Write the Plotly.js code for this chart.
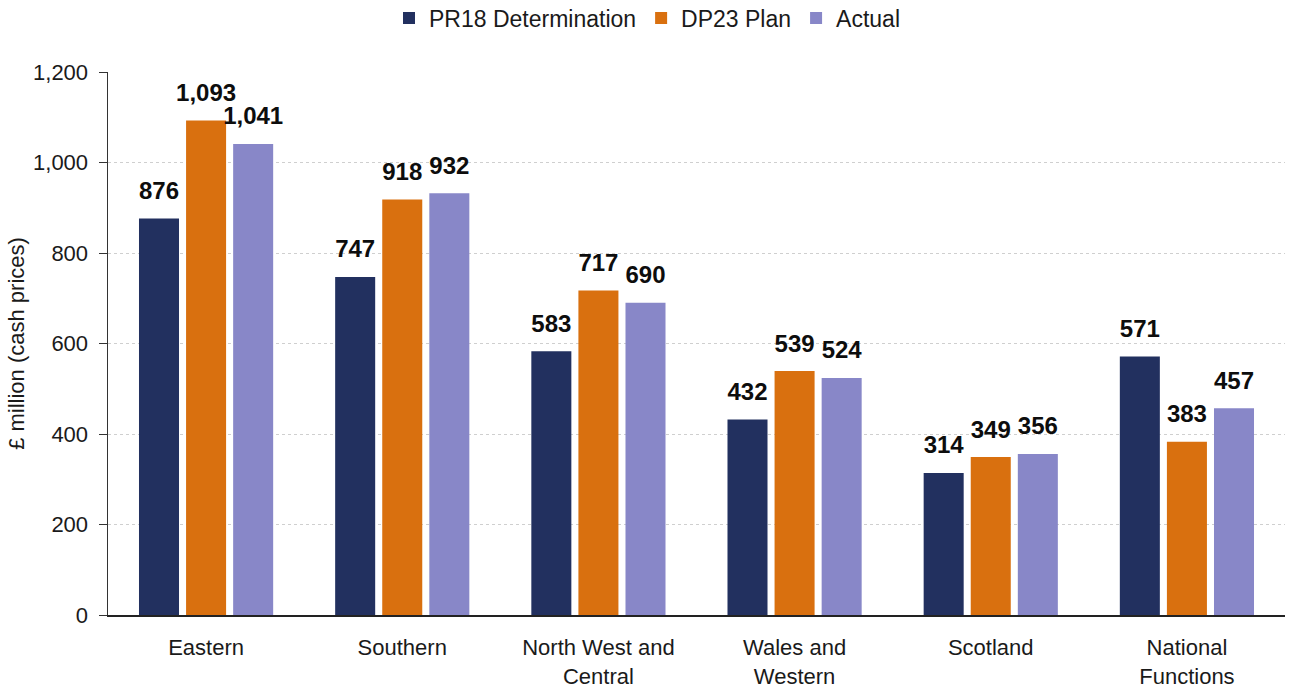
<!DOCTYPE html>
<html>
<head>
<meta charset="utf-8">
<script src="https://cdn.plot.ly/plotly-3.0.1.min.js"></script>
<style>html,body{margin:0;padding:0;background:#fff;}#chart{width:1295px;height:692px;}</style>
</head>
<body>
<div id="chart"></div>
<script>
const categories = ["Eastern", "Southern", "North West and<br>Central", "Wales and<br>Western", "Scotland", "National<br>Functions"];
const seriesNames = ["PR18 Determination", "DP23 Plan", "Actual"];
const pr18 = [876, 747, 583, 432, 314, 571];
const dp23 = [1093, 918, 717, 539, 349, 383];
const actual = [1041, 932, 690, 524, 356, 457];
const colors = ["#22305F", "#D9700F", "#8887C8"];
const yTicks = [0, 200, 400, 600, 800, 1000, 1200];

const FONT = 'Liberation Sans, Arial, sans-serif';
const fmt = v => v.toLocaleString('en-GB');
const series = [pr18, dp23, actual];

const bars = series.map((vals, i) => ({
  type: 'bar',
  name: seriesNames[i],
  x: categories,
  y: vals,
  marker: {color: colors[i]},
  hoverinfo: 'x+y'
}));

const labels = series.map((vals, i) => ({
  type: 'scatter',
  mode: 'markers+text',
  name: seriesNames[i] + ' labels',
  showlegend: false,
  x: categories,
  y: vals,
  marker: {size: 20, opacity: 0, color: colors[i]},
  text: vals.map(fmt),
  textposition: 'top center',
  cliponaxis: false,
  textfont: {family: FONT, size: 24, color: '#0d0d0d', weight: 'bold'},
  hoverinfo: 'skip'
}));

const layout = {
  width: 1295, height: 692,
  margin: {l: 108, r: 10, t: 72, b: 77},
  paper_bgcolor: '#fff', plot_bgcolor: '#fff',
  font: {family: FONT, size: 22, color: '#1a1a1a'},
  barmode: 'group',
  bargap: 0.28,
  bargroupgap: 0.15,
  scattermode: 'group',
  scattergap: 0.28,
  showlegend: true,
  legend: {orientation: 'h', x: 0.5, xanchor: 'center', xref: 'container',
           y: 0.974, yanchor: 'middle', yref: 'container',
           font: {family: FONT, size: 23, color: '#1a1a1a'}, traceorder: 'normal'},
  xaxis: {
    showline: true, linecolor: '#222', linewidth: 1.5,
    ticks: '', tickfont: {family: FONT, size: 22, color: '#1a1a1a'},
    ticklabelstandoff: 12,
    automargin: false
  },
  yaxis: {
    range: [0, 1200], tickvals: yTicks, ticktext: yTicks.map(fmt),
    showline: true, linecolor: '#333', linewidth: 1.5,
    ticks: 'outside', ticklen: 8, tickcolor: '#333',
    ticklabelstandoff: 6,
    showgrid: true, gridcolor: '#CFCFCF', griddash: 'dot', gridwidth: 1,
    zeroline: false,
    tickfont: {family: FONT, size: 22, color: '#1a1a1a'},
    title: {text: '£ million (cash prices)', font: {family: FONT, size: 22, color: '#1a1a1a'}, standoff: 2},
    automargin: false
  }
};

Plotly.newPlot('chart', bars.concat(labels), layout, {displayModeBar: false, staticPlot: true});
</script>
</body>
</html>
